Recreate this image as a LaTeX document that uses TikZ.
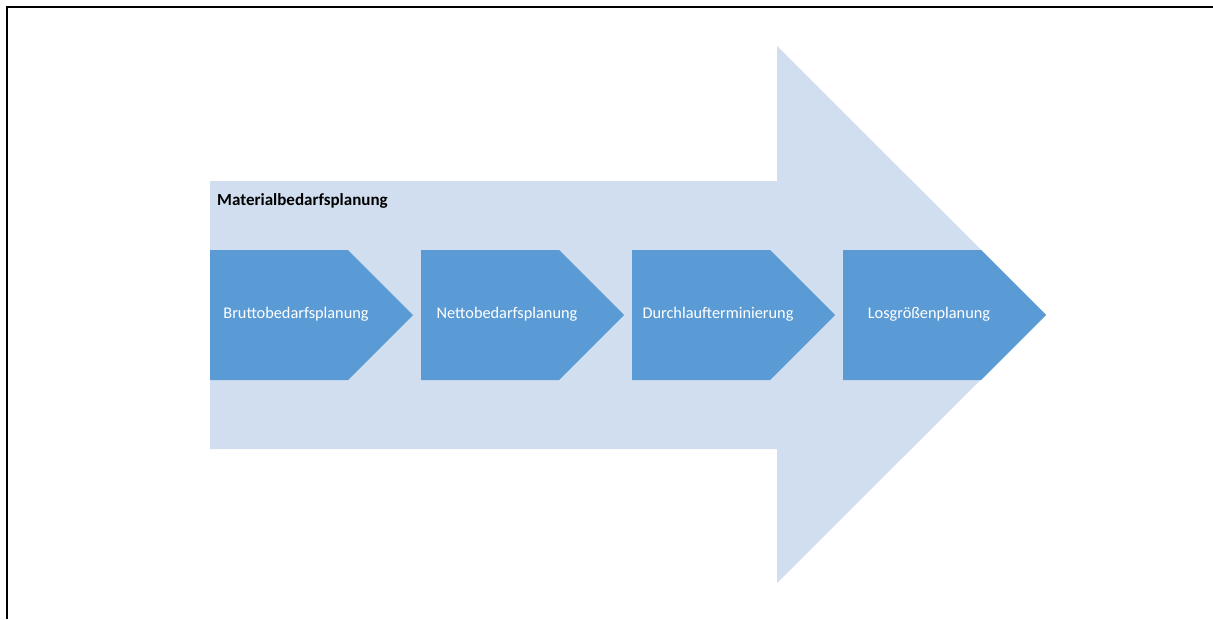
\documentclass[tikz,border=0pt]{standalone}
\usepackage{fontspec}
\setmainfont{Carlito}
\definecolor{bandblue}{HTML}{D0DEEF}
\definecolor{stepblue}{HTML}{5B9BD5}
\begin{document}
\begin{tikzpicture}[x=1pt,y=-1pt,
  chevron/.style={fill=stepblue,draw=none},
  steplabel/.style={text=white,font=\fontsize{16.3}{18}\selectfont,anchor=center,inner sep=0pt},
  titlelabel/.style={text=black,font=\bfseries\fontsize{17}{19}\selectfont,anchor=west,inner sep=0pt}]
\useasboundingbox (0,0) rectangle (1213,619);
% frame lines
\draw[line width=2.6pt] (7,619) -- (7,7) -- (1213,7);
% large background arrow
\fill[bandblue] (210,181) -- (777,181) -- (777,46) -- (1046,314.5) -- (777,583) -- (777,449) -- (210,449) -- cycle;
\node[titlelabel] (title) at (217,201) {Materialbedarfsplanung};
% process steps
\foreach \x/\name/\txt in {210/s1/Bruttobedarfsplanung,421/s2/Nettobedarfsplanung,632/s3/Durchlaufterminierung,843/s4/Losgrößenplanung}{
  \fill[chevron] (\x,250) -- ({\x+138},250) -- ({\x+203},315) -- ({\x+138},380) -- (\x,380) -- cycle;
  \node[steplabel] (\name) at ({\x+86},314) {\txt};
}
\end{tikzpicture}
\end{document}
